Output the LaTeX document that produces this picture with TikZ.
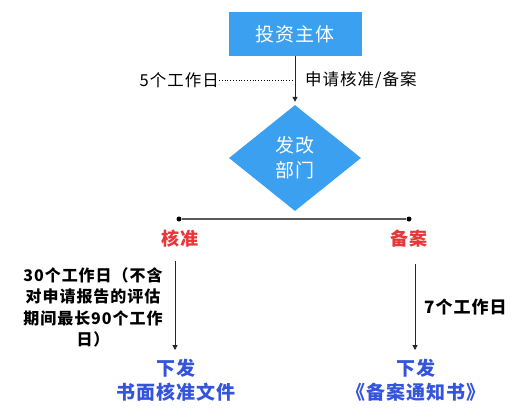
\documentclass[tikz,border=0pt]{standalone}
\usepackage{fontspec}
\setmainfont{Noto Sans CJK SC}[LetterSpace=6]
\usetikzlibrary{shapes.geometric,arrows.meta}
\definecolor{boxblue}{RGB}{59,160,240}
\definecolor{lblred}{RGB}{232,54,58}
\definecolor{lblblue}{RGB}{52,84,220}
\definecolor{linegray}{RGB}{90,90,90}
\tikzset{
  arr/.style={draw=black!85, line width=1pt, -{Triangle[length=5pt,width=5pt]}},
  plain/.style={inner sep=0pt, font=\fontsize{16.5}{19}\selectfont},
  boldtxt/.style={inner sep=0pt, font=\bfseries\fontsize{16}{21.5}\selectfont, align=center},
  redtxt/.style={inner sep=0pt, text=lblred, font=\bfseries\fontsize{18}{20}\selectfont},
  bluetxt/.style={inner sep=0pt, text=lblblue, font=\bfseries\fontsize{19}{24}\selectfont, align=center},
  dot/.style={circle, fill=black, inner sep=0pt, minimum size=5pt}
}
\begin{document}
\begin{tikzpicture}[x=1pt,y=-1pt]
\useasboundingbox (0,0) rectangle (522,416);
% top box
\node[fill=boxblue, minimum width=133pt, minimum height=44pt, inner sep=0pt, text=white,
      font=\fontsize{19}{22}\selectfont] (top) at (295,34) {投资主体};
% diamond
\node[diamond, fill=boxblue, minimum width=132pt, minimum height=106pt, inner sep=0pt] (dia) at (295,158) {};
\node[text=white, inner sep=0pt, align=center, font=\fontsize{19}{25}\selectfont] (diatxt) at (295,158) {发改\\部门};
\draw[arr, shorten >=3pt] (top.south) -- (dia.north);
% side labels
\node[plain, anchor=east] (five) at (219,80) {5个工作日};
\node[plain, anchor=west] (apply) at (305,80) {申请核准/备案};
\coordinate (mid) at (294,80);
\draw[dotted, line width=0.8pt] (five.east) -- (mid);
% horizontal split
\node[dot] (hl) at (179,219) {};
\node[dot] (hr) at (409,219) {};
\draw[linegray, line width=1.5pt] (hl) -- (hr);
\node[redtxt] (hz) at (180,239) {核准};
\node[redtxt] (ba) at (409,239) {备案};
% left branch
\coordinate (l1) at (175,261);
\coordinate (l2) at (175,350);
\draw[arr] (l1) -- (l2);
\node[boldtxt] (ltxt) at (93,307.5) {30个工作日（不含\\对申请报告的评估\\期间最长90个工作\\日）};
\node[bluetxt] (lout) at (176,380) {下发\\书面核准文件};
% right branch
\coordinate (r1) at (415,264);
\coordinate (r2) at (415,350);
\draw[arr] (r1) -- (r2);
\node[boldtxt, anchor=west, font=\bfseries\fontsize{17}{20}\selectfont] (rtxt) at (424,307) {7个工作日};
\node[bluetxt] (rout) at (416,380) {下发\\《备案通知书》};
\end{tikzpicture}
\end{document}
